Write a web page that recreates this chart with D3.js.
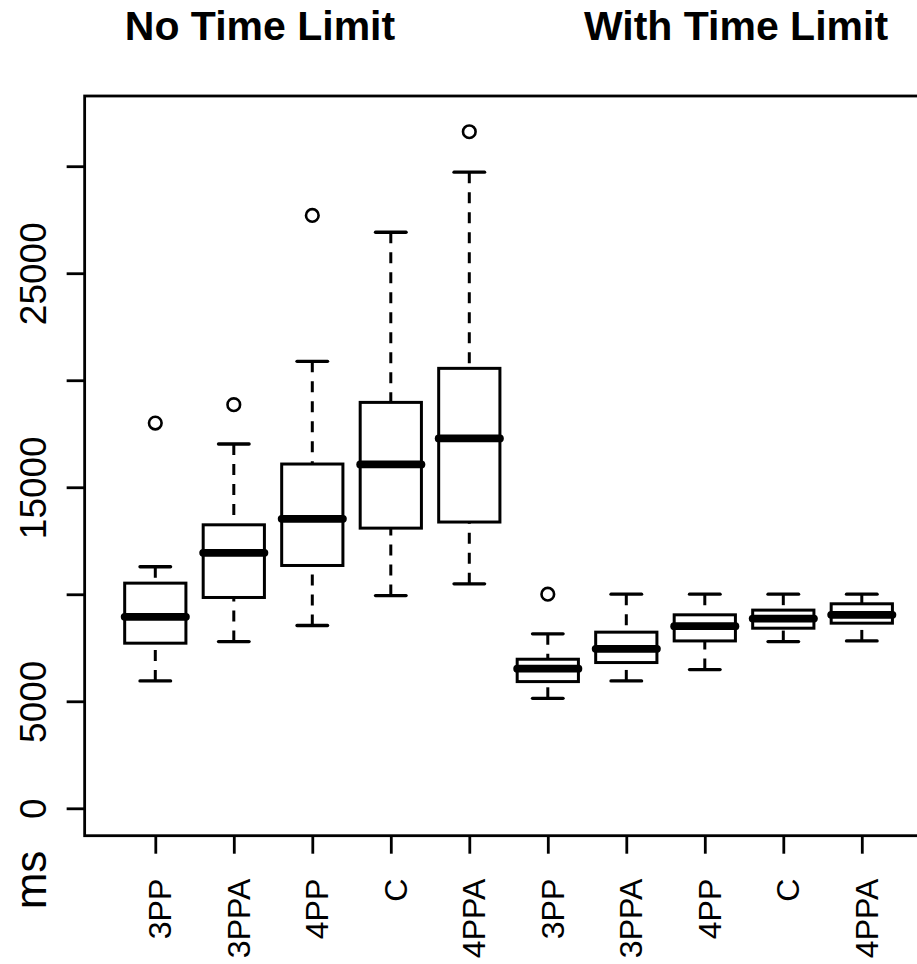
<!DOCTYPE html>
<html>
<head>
<meta charset="utf-8">
<script src="https://cdn.jsdelivr.net/npm/d3@7"></script>
<style>
  html, body { margin: 0; padding: 0; background: #fff; }
  svg { display: block; font-family: "Liberation Sans", Arial, Helvetica, sans-serif; }
</style>
</head>
<body>
<svg id="chart" width="917" height="964"></svg>
<script>
// Response times (ms) per strategy, without and with a time limit
const categories = ["3PP", "3PPA", "4PP", "C", "4PPA", "3PP", "3PPA", "4PP", "C", "4PPA"];
const groupTitles = ["No Time Limit", "With Time Limit"];
const whiskerLow  = [5950, 7790, 8540, 9940, 10490, 5140, 5950, 6480, 7790, 7820];
const q1          = [7715, 9850, 11345, 13090, 13375, 5920, 6810, 7820, 8415, 8650];
const medians     = [8945, 11935, 13525, 16065, 17280, 6525, 7450, 8510, 8865, 9040];
const q3          = [10520, 13245, 16085, 18965, 20555, 6965, 8230, 9040, 9260, 9555];
const whiskerHigh = [11285, 17020, 20885, 26915, 29720, 8150, 10005, 10005, 10005, 10005];
const outliers    = [[18000], [18860], [27700], [], [31610], [10005], [], [], [], []];
const yTicks      = [0, 5000, 10000, 15000, 20000, 25000, 30000];
const yTickLabels = [0, 5000, 15000, 25000];
const yLabel = "ms";

const svg = d3.select("#chart");

// base-graphics style limits: data range plus 4% padding on each side
const xDomain = [0.5, categories.length + 0.5];
const xPad = (xDomain[1] - xDomain[0]) * 0.04;
const yDomain = [0, 32000];
const yPad = (yDomain[1] - yDomain[0]) * 0.04;

const plot = { left: 84.65, right: 932.45, top: 96, bottom: 835.7 };

const x = d3.scaleLinear()
  .domain([xDomain[0] - xPad, xDomain[1] + xPad])
  .range([plot.left, plot.right]);
const y = d3.scaleLinear()
  .domain([yDomain[0] - yPad, yDomain[1] + yPad])
  .range([plot.bottom, plot.top]);

const unit = x(2) - x(1);
const boxW = unit * 0.78;
const stapleW = boxW / 2;

const boxes = categories.map((c, i) => ({
  pos: i + 1, name: c,
  lo: whiskerLow[i], q1: q1[i], med: medians[i], q3: q3[i], hi: whiskerHigh[i],
  out: outliers[i]
}));

const g = svg.append("g");

// whiskers (dashed), drawn from the whisker end toward the box
g.selectAll("line.wlow").data(boxes).join("line")
  .attr("x1", d => x(d.pos)).attr("x2", d => x(d.pos))
  .attr("y1", d => y(d.lo)).attr("y2", d => y(d.q1))
  .attr("stroke", "#000").attr("stroke-width", 3).attr("stroke-dasharray", "11,9");
g.selectAll("line.whigh").data(boxes).join("line")
  .attr("x1", d => x(d.pos)).attr("x2", d => x(d.pos))
  .attr("y1", d => y(d.hi)).attr("y2", d => y(d.q3))
  .attr("stroke", "#000").attr("stroke-width", 3).attr("stroke-dasharray", "11,9");

// staples
["lo", "hi"].forEach(k => {
  g.selectAll(null).data(boxes).join("line")
    .attr("x1", d => x(d.pos) - stapleW / 2).attr("x2", d => x(d.pos) + stapleW / 2)
    .attr("y1", d => y(d[k])).attr("y2", d => y(d[k]))
    .attr("stroke", "#000").attr("stroke-width", 3.3).attr("stroke-linecap", "round");
});

// boxes
g.selectAll("rect.box").data(boxes).join("rect")
  .attr("x", d => x(d.pos) - boxW / 2)
  .attr("width", boxW)
  .attr("y", d => y(d.q3))
  .attr("height", d => y(d.q1) - y(d.q3))
  .attr("fill", "#fff").attr("stroke", "#000").attr("stroke-width", 3);

// medians
g.selectAll("line.med").data(boxes).join("line")
  .attr("x1", d => x(d.pos) - boxW / 2).attr("x2", d => x(d.pos) + boxW / 2)
  .attr("y1", d => y(d.med)).attr("y2", d => y(d.med))
  .attr("stroke", "#000").attr("stroke-width", 7.8).attr("stroke-linecap", "round");

// outliers
const outPts = boxes.flatMap(d => d.out.map(v => ({ pos: d.pos, v })));
g.selectAll("circle.out").data(outPts).join("circle")
  .attr("cx", d => x(d.pos)).attr("cy", d => y(d.v)).attr("r", 6.3)
  .attr("fill", "none").attr("stroke", "#000").attr("stroke-width", 2.6);

// frame
svg.append("rect")
  .attr("x", plot.left).attr("y", plot.top)
  .attr("width", plot.right - plot.left).attr("height", plot.bottom - plot.top)
  .attr("fill", "none").attr("stroke", "#000").attr("stroke-width", 2.8);

// y axis
const yAxis = d3.axisLeft(y).tickValues(yTicks).tickSize(18)
  .tickFormat(v => yTickLabels.includes(v) ? String(v) : "");
const ya = svg.append("g").attr("transform", `translate(${plot.left},0)`).call(yAxis);
ya.select(".domain").remove();
ya.selectAll(".tick line").attr("stroke", "#000").attr("stroke-width", 2.8);
ya.selectAll(".tick text")
  .attr("x", null).attr("dy", null)
  .attr("transform", "translate(-38.3,0) rotate(-90)")
  .attr("text-anchor", "middle")
  .attr("fill", "#000")
  .style("font-size", "37px")
  .style("font-family", "'Liberation Sans', Arial, sans-serif");

// x axis
const xAxis = d3.axisBottom(x).tickValues(boxes.map(d => d.pos)).tickSize(18)
  .tickFormat((v, i) => categories[i]);
const xa = svg.append("g").attr("transform", `translate(0,${plot.bottom})`).call(xAxis);
xa.select(".domain").remove();
xa.selectAll(".tick line").attr("stroke", "#000").attr("stroke-width", 2.8);
xa.selectAll(".tick text")
  .attr("y", null).attr("dy", null)
  .attr("transform", "translate(15.5,43) rotate(-90)")
  .attr("text-anchor", "end")
  .attr("fill", "#000")
  .style("font-size", "32px")
  .style("font-family", "'Liberation Sans', Arial, sans-serif");

// axis title
svg.append("text")
  .attr("transform", "translate(45.5,880) rotate(-90)")
  .attr("text-anchor", "middle")
  .style("font-size", "44px")
  .text(yLabel);

// group titles
const titleCenters = [260, 736];
groupTitles.forEach((t, i) => {
  svg.append("text")
    .attr("x", titleCenters[i]).attr("y", 40)
    .attr("text-anchor", "middle")
    .style("font-size", "41px").style("font-weight", "bold")
    .text(t);
});
</script>
</body>
</html>
